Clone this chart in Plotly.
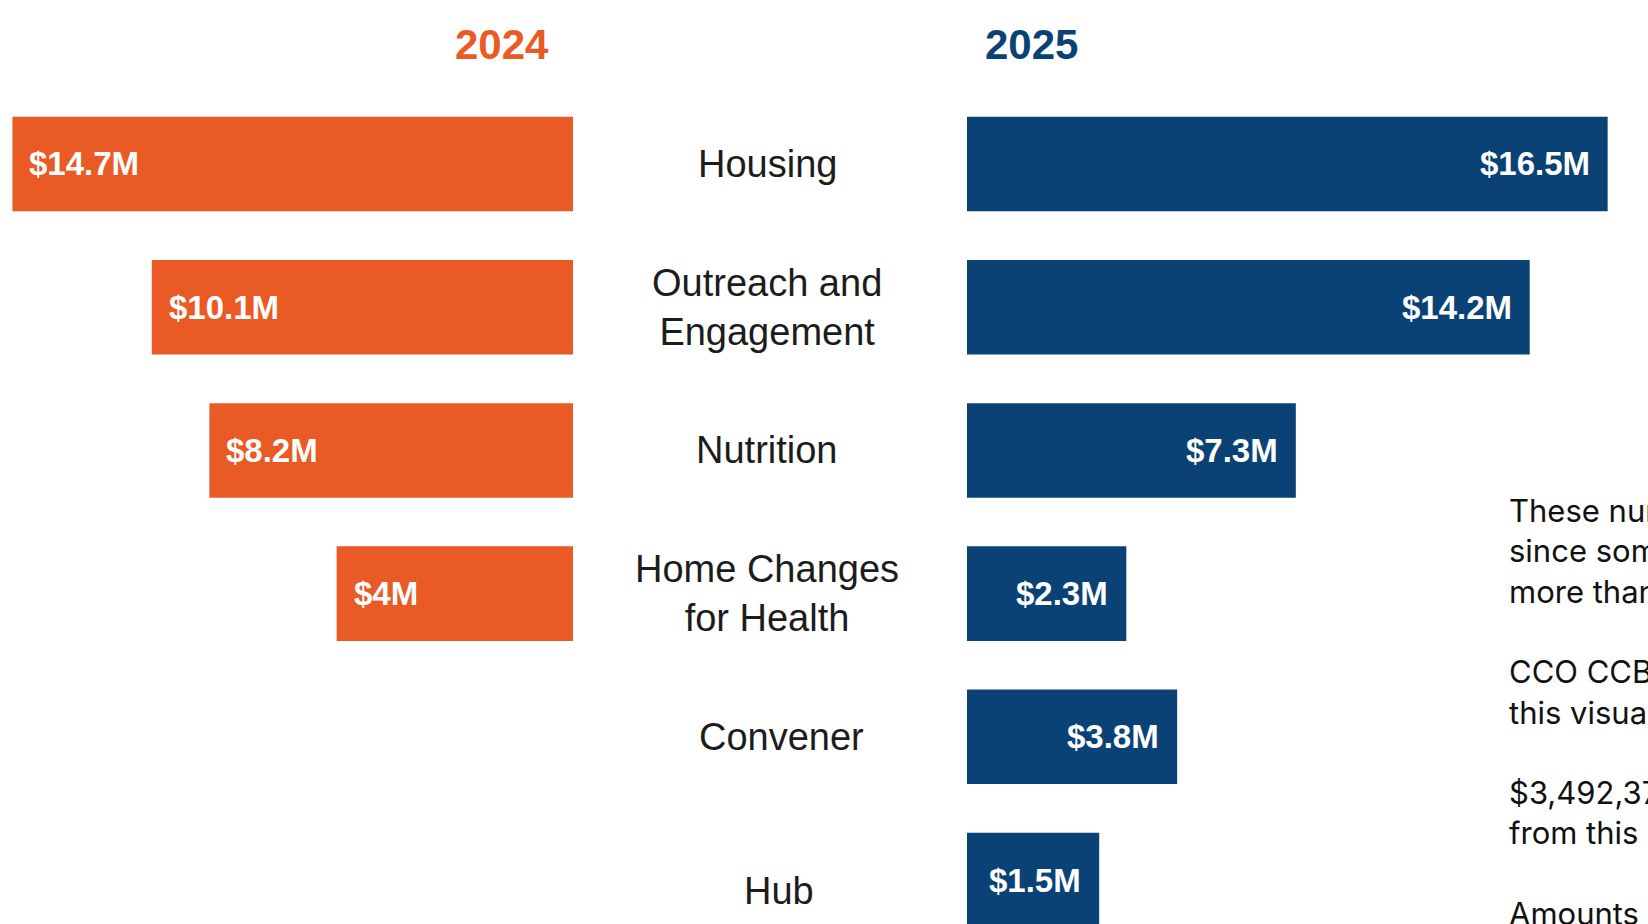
import plotly.graph_objects as go

# ---------------- data ----------------
categories = ["Housing", "Outreach and Engagement", "Nutrition",
              "Home Changes for Health", "Convener", "Hub"]
category_labels = ["Housing", "Outreach and<br>Engagement", "Nutrition",
                   "Home Changes<br>for Health", "Convener", "Hub"]
years = ["2024", "2025"]
values_2024 = [14.7, 10.1, 8.2, 4.0, None, None]
values_2025 = [16.5, 14.2, 7.3, 2.3, 3.8, 1.5]
labels_2024 = ["$14.7M", "$10.1M", "$8.2M", "$4M", "", ""]
labels_2025 = ["$16.5M", "$14.2M", "$7.3M", "$2.3M", "$3.8M", "$1.5M"]
note_lines = [
    "These numbers are not additive",
    "since some projects fall into",
    "more than one category.",
    "",
    "CCO CCBF funding is excluded from",
    "this visual.",
    "",
    "$3,492,377 in unassigned funds was removed",
    "from this visual.",
    "",
    "Amounts are rounded to the nearest million.",
]

# ---------------- style ----------------
ORANGE = "#E95A24"
BLUE = "#0A4276"
W, H = 1648, 924
OFFSET_L = 3.8        # visual stubs (the source graphic is not drawn from zero)
OFFSET_R = 2.4
FONT = "Liberation Sans, Arial, sans-serif"
BAR_FONT = dict(family=FONT, size=33, color="white")
LABEL_X = {"Convener": 781, "Hub": 779}   # pixel centres that differ from default
LABEL_YSHIFT = {"Hub": -11}

fig = go.Figure()

x24 = [None if v is None else v + OFFSET_L for v in values_2024]
x25 = [v + OFFSET_R for v in values_2025]

fig.add_trace(go.Bar(
    y=categories, x=x24, base=-OFFSET_L, orientation="h",
    marker=dict(color=ORANGE, line=dict(width=0)), width=0.66,
    xaxis="x", yaxis="y", name=years[0], hoverinfo="skip",
))
fig.add_trace(go.Bar(
    y=categories, x=x25, base=-OFFSET_R, orientation="h",
    marker=dict(color=BLUE, line=dict(width=0)), width=0.66,
    xaxis="x2", yaxis="y", name=years[1], hoverinfo="skip",
))

annotations = []
for cat, v, t in zip(categories, values_2024, labels_2024):
    if v is None:
        continue
    annotations.append(dict(x=v, y=cat, xref="x", yref="y", text="<b>%s</b>" % t,
                            xanchor="left", yanchor="middle", xshift=15,
                            showarrow=False, font=BAR_FONT))
for cat, v, t in zip(categories, values_2025, labels_2025):
    annotations.append(dict(x=v, y=cat, xref="x2", yref="y", text="<b>%s</b>" % t,
                            xanchor="right", yanchor="middle", xshift=-16,
                            showarrow=False, font=BAR_FONT))

for cat, lab in zip(categories, category_labels):
    annotations.append(dict(x=LABEL_X.get(cat, 767) / W, y=cat, xref="paper", yref="y",
                            text=lab, xanchor="center", yanchor="middle", showarrow=False,
                            yshift=LABEL_YSHIFT.get(cat, 0),
                            font=dict(family=FONT, size=38, color="#1c1c1c")))

annotations.append(dict(x=502 / W, y=1 - 44 / H, xref="paper", yref="paper",
                        text="<b>%s</b>" % years[0], showarrow=False,
                        xanchor="center", yanchor="middle",
                        font=dict(family=FONT, size=42, color=ORANGE)))
annotations.append(dict(x=1031 / W, y=1 - 45 / H, xref="paper", yref="paper",
                        text="<b>%s</b>" % years[1], showarrow=False,
                        xanchor="center", yanchor="middle",
                        font=dict(family=FONT, size=42, color=BLUE)))

annotations.append(dict(x=1507 / W, y=1 - 490 / H, xref="paper", yref="paper",
                        text="<br>".join(l if l else " " for l in note_lines),
                        showarrow=False, xanchor="left", yanchor="top", align="left",
                        font=dict(family="Inter, Roboto, sans-serif", size=31, color="#111111")))

fig.update_layout(
    width=W, height=H,
    margin=dict(l=0, r=0, t=0, b=0),
    paper_bgcolor="white", plot_bgcolor="white",
    showlegend=False, barmode="overlay",
    xaxis=dict(domain=[0, 573 / W], range=[15.11, -OFFSET_L], visible=False, fixedrange=True),
    xaxis2=dict(domain=[967 / W, 1.0], range=[-OFFSET_R, 17.69], visible=False, fixedrange=True),
    yaxis=dict(domain=[0, 1 - 92.4 / H], type="category",
               categoryorder="array", categoryarray=categories,
               range=[5.307, -0.5], visible=False, fixedrange=True),
    annotations=annotations,
)

fig.write_html("out.html", config={"displayModeBar": False},
               post_script="document.body.style.margin='0';document.body.style.overflow='hidden';")
